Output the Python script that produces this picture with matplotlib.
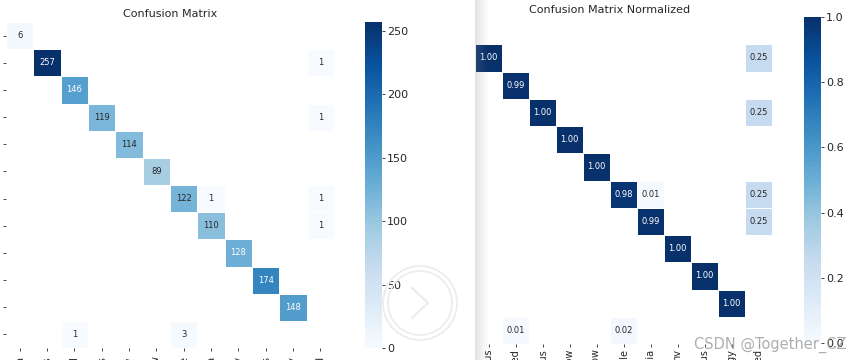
import numpy as np
import matplotlib
matplotlib.use("Agg")
import matplotlib.pyplot as plt
import seaborn as sns
from matplotlib.patches import Rectangle, Circle

W, H = 860, 360

classes = ['Eczema', 'Nevus', 'Unclassified', 'Melanocytic_nevus', 'Shadow', 'Yellow',
           'Pimple', 'Leukemia', 'nv', 'Pemphigus', 'Allergy', 'Undefined']

counts = [
    [6, 0, 0, 0, 0, 0, 0, 0, 0, 0, 0, 0],
    [0, 257, 0, 0, 0, 0, 0, 0, 0, 0, 0, 1],
    [0, 0, 146, 0, 0, 0, 0, 0, 0, 0, 0, 0],
    [0, 0, 0, 119, 0, 0, 0, 0, 0, 0, 0, 1],
    [0, 0, 0, 0, 114, 0, 0, 0, 0, 0, 0, 0],
    [0, 0, 0, 0, 0, 89, 0, 0, 0, 0, 0, 0],
    [0, 0, 0, 0, 0, 0, 122, 1, 0, 0, 0, 1],
    [0, 0, 0, 0, 0, 0, 0, 110, 0, 0, 0, 1],
    [0, 0, 0, 0, 0, 0, 0, 0, 128, 0, 0, 0],
    [0, 0, 0, 0, 0, 0, 0, 0, 0, 174, 0, 0],
    [0, 0, 0, 0, 0, 0, 0, 0, 0, 0, 148, 0],
    [0, 0, 1, 0, 0, 0, 3, 0, 0, 0, 0, 0],
]


def box(x0, y0, x1, y1):
    # pixel box (top-left origin) -> figure fraction rect
    return [x0 / W, 1 - y1 / H, (x1 - x0) / W, (y1 - y0) / H]


cm = np.array(counts)
cm_norm = cm / cm.sum(axis=0, keepdims=True)

plt.rcParams['text.color'] = '#262626'
plt.rcParams['xtick.color'] = '#262626'
plt.rcParams['ytick.color'] = '#262626'

fig = plt.figure(figsize=(W / 100, H / 100), dpi=100)

# left: raw counts
ax1 = fig.add_axes(box(6, 22, 334, 348))
cax1 = fig.add_axes(box(365, 22, 382, 348))
sns.heatmap(cm, mask=cm == 0, annot=True, fmt='d', cmap='Blues', vmin=0,
            linewidths=0.6, linecolor='white', ax=ax1, cbar_ax=cax1,
            xticklabels=classes, yticklabels=classes, annot_kws={'size': 6})
ax1.set_title('Confusion Matrix', fontsize=8, pad=3.5)

# right: normalized by column
ax2 = fig.add_axes(box(448, 17, 772, 344))
cax2 = fig.add_axes(box(804, 17, 821, 343))
sns.heatmap(cm_norm, mask=cm == 0, annot=True, fmt='.2f', cmap='Blues', vmin=0, vmax=1,
            linewidths=0.6, linecolor='white', ax=ax2, cbar_ax=cax2,
            xticklabels=classes, yticklabels=False, annot_kws={'size': 6})
ax2.set_title('Confusion Matrix Normalized', fontsize=8, pad=3)

for ax in (ax1, ax2):
    ax.tick_params(length=2, width=0.6, labelsize=7)
    ax.tick_params(axis='x', labelrotation=90)
ax1.tick_params(axis='x', pad=4)
ax1.tick_params(axis='y', pad=5)
ax2.tick_params(axis='x', pad=1.5)
for cax in (cax1, cax2):
    cax.tick_params(length=2, width=0.6, labelsize=8, pad=1.5)

# the right picture sits under the left one: hide its first column
fig.add_artist(Rectangle((420 / W, 0), 55 / W, 1, transform=fig.transFigure,
                         facecolor='white', edgecolor='none', zorder=10))
sh = fig.add_axes(box(475, 0, 490, 360), zorder=11)
grad = np.zeros((1, 64, 4))
grad[..., :3] = 0.55
grad[..., 3] = np.linspace(0.35, 0.0, 64) ** 1.3
sh.imshow(grad, aspect='auto', extent=[0, 1, 0, 1])
sh.axis('off')
sh.patch.set_alpha(0)

# viewer "next" button overlay
for r in (37, 32):
    fig.add_artist(Circle((420, H - 303), r, transform=None, fill=False,
                          edgecolor='#ececec', linewidth=1.2, zorder=12))
fig.add_artist(plt.Line2D([412 / W, 428 / W, 412 / W],
                          [1 - 288 / H, 1 - 303 / H, 1 - 318 / H],
                          transform=fig.transFigure, color='#ececec', linewidth=1.5, zorder=12))

# watermark
fig.text(770 / W, 1 - 345 / H, 'CSDN @Together_CZ', fontsize=10.5, color='#a0a0a0',
         alpha=0.85, ha='center', va='center', zorder=13)

fig.savefig('out.png', dpi=100)
